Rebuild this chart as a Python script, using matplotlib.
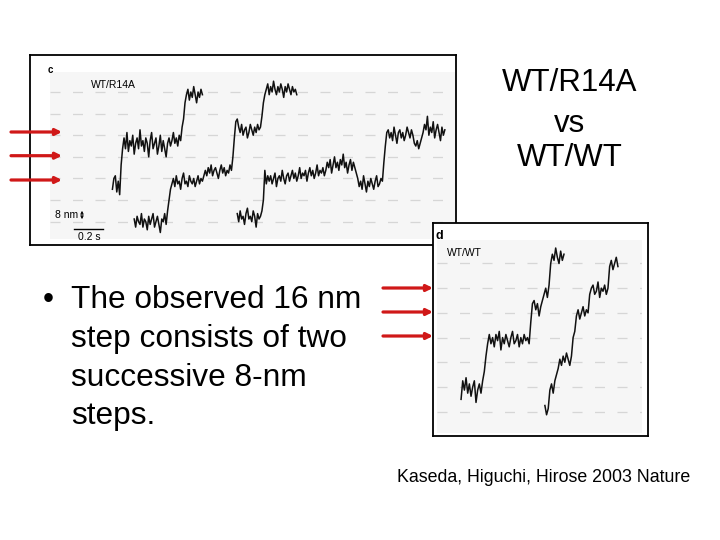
import numpy as np
import matplotlib
matplotlib.use('Agg')
import matplotlib.pyplot as plt
from matplotlib.patches import Rectangle

plt.rcParams['font.family'] = ['Liberation Sans', 'DejaVu Sans']

# ---- data (time in s, displacement in nm) ----
dt = 0.01
c1_t0 = 0.43
c1_nm = [12, 16, 17, 11, 15, 10, 21, 27,
         31, 27, 33, 26, 30, 28, 32, 25, 29, 31, 27, 34, 28, 30, 26, 31, 29, 24, 30, 33,
         27, 29, 31, 25, 28, 32, 26, 30, 27, 24, 29, 31, 28, 30, 33, 29, 31, 28, 32, 30,
         35, 38, 44,
         47, 49, 45, 48, 46, 50, 47, 44, 48, 46, 49, 47]
c2_t0 = 0.58
c2_nm = [1, -2, 2, 0, -1, 3, -2, 1, 0, -3, 2, -1, 1, 3, -2, 0, 2, -1, -4, 1, 0, 3, -1,
         4, 8, 12, 14,
         16, 13, 17, 14, 15, 12, 16, 18, 14, 15, 13, 17, 15, 14, 16, 13, 15, 17, 14, 16, 15, 17,
         19, 17, 20, 18, 21, 17, 19, 20, 18, 16, 19, 21, 18, 20, 17, 19, 18, 21, 19,
         24, 31, 37,
         38, 35, 33, 36, 32, 34, 35, 31, 33, 36, 34, 32, 35, 33, 36, 34, 35,
         39, 44, 47,
         49, 51, 47, 50, 48, 52, 49, 47, 50, 48, 51, 49, 46, 50, 48, 51, 49, 47, 50, 48, 49, 47]
c3_t0 = 1.29
c3_nm = [3, 0, 4, 1, 2, -1, 3, 5, 1, 2, 0, 4, 2, -2, 3, 1, 2, 4,
         8, 19, 14, 17,
         15, 17, 14, 16, 18, 13, 16, 17, 15, 19, 16, 14, 17, 18, 15, 17, 19, 16, 18, 15,
         17, 20, 16, 18, 17, 19, 15, 18, 20, 17, 19, 16, 18, 21, 17, 19, 18, 20, 17,
         19, 22, 20, 23, 18, 21, 24, 20, 22, 19, 23, 21, 25, 20, 22, 18, 21, 23, 19, 22, 20, 18,
         16, 13, 15, 12, 17, 14, 11, 15, 13, 16, 14, 12, 15, 17, 13, 14, 16, 15,
         22, 28, 33,
         34, 31, 33, 30, 35, 32, 29, 33, 34, 31, 33, 30, 32, 35, 33, 31, 34, 32, 29, 28,
         30, 27, 29, 31, 33, 36, 34, 39, 32, 35, 33, 37, 31, 34, 36, 33, 30, 35, 32, 34]

d1_t0 = 0.145
d1_nm = [4, 10, 7, 11, 6, 9, 5, 8, 10, 3, 7, 9, 6, 10,
         13, 18, 22,
         25, 22, 24, 21, 25, 23, 26, 20, 24, 22, 25, 23, 21, 24, 26, 22, 23, 25, 21, 24, 22, 25, 23, 24, 22,
         29, 35,
         36, 33, 35, 31, 34, 36,
         38, 40, 37, 41,
         48, 51, 49, 53, 50, 48, 52, 49, 51]
d2_t0 = 0.65
d2_nm = [2, -1, 1, 7, 9, 6, 10, 12, 14,
         17, 15, 18, 16, 19, 17, 15, 18, 24, 26,
         31, 33, 30, 32, 34, 31, 33, 32,
         38, 40, 41, 38, 39, 42, 37, 40, 39, 41, 38, 40,
         47, 49, 46, 48, 50, 47]

grid_nm = [0, 8, 16, 24, 32, 40, 48]

W, H = 720, 540
fig = plt.figure(figsize=(7.2, 5.4), dpi=100)


def px_axes(x0, y0, x1, y1):
    return fig.add_axes([x0 / W, 1 - y1 / H, (x1 - x0) / W, (y1 - y0) / H])


def trace_panel(box, area, xlim, ylim, traces):
    bx = px_axes(*box)
    bx.set_xticks([]); bx.set_yticks([])
    for s in bx.spines.values():
        s.set_linewidth(1.3)
    ax = px_axes(*area)
    ax.set_xlim(*xlim); ax.set_ylim(*ylim)
    ax.axis('off')
    ax.add_patch(Rectangle((0, 0), 1, 1, transform=ax.transAxes, color='#f6f6f6', zorder=0))
    for g in grid_nm:
        ax.plot(xlim, [g, g], color='#d6d6d6', lw=0.9, dashes=(8, 10), zorder=1)
    for t0, y in traces:
        t = t0 + dt * np.arange(len(y))
        ax.plot(t, y, color='#111111', lw=1.1, zorder=2)
    return bx, ax


# panel c
bc, ac = trace_panel((30, 54.7, 456, 245), (50, 72, 455, 239), (0, 2.79), (-6.4, 55.4),
                     [(c1_t0, c1_nm), (c2_t0, c2_nm), (c3_t0, c3_nm)])
# panel d (drawn on top of c)
bd, ad = trace_panel((432.7, 222.7, 648, 436), (437, 240, 642, 433), (0, 1.235), (-6.9, 55.6),
                     [(d1_t0, d1_nm), (d2_t0, d2_nm)])

# overlay in pixel coordinates for text and arrows
ov = fig.add_axes([0, 0, 1, 1])
ov.set_xlim(0, W); ov.set_ylim(H, 0)
ov.axis('off')
ov.patch.set_alpha(0)

# panel labels and scale bars
ov.text(48, 70, 'c', fontsize=7, fontweight='bold', va='center')
ov.text(91, 85, 'WT/R14A', fontsize=7.5, va='center')
ov.text(55, 215, '8 nm', fontsize=7.5, va='center')
ov.annotate('', xy=(82, 208), xytext=(82, 222),
            arrowprops=dict(arrowstyle='<->', lw=0.8, color='black', mutation_scale=4))
ov.plot([74, 103], [229, 229], color='black', lw=1.0)
ov.text(89, 237, '0.2 s', fontsize=7.5, ha='center', va='center')
ov.text(436, 236, 'd', fontsize=9, fontweight='bold', va='center')
ov.text(447, 253, 'WT/WT', fontsize=7.5, va='center')

red = '#d01818'
for y in [132, 155.7, 180]:
    ov.annotate('', xy=(62, y), xytext=(11, y),
                arrowprops=dict(arrowstyle='-|>', lw=2.3, color=red, mutation_scale=9,
                                shrinkA=0, shrinkB=0))
for y in [288, 312, 336]:
    ov.annotate('', xy=(433, y), xytext=(383, y),
                arrowprops=dict(arrowstyle='-|>', lw=2.3, color=red, mutation_scale=9,
                                shrinkA=0, shrinkB=0))

# slide text
for y, s in [(83, 'WT/R14A'), (124, 'vs'), (158, 'WT/WT')]:
    ov.text(570, y, s, fontsize=22.5, ha='center', va='center')

ov.text(43, 300, '\u2022', fontsize=22.5, va='center')
for y, s in [(300, 'The observed 16 nm'), (339, 'step consists of two'),
             (378, 'successive 8-nm'), (416, 'steps.')]:
    ov.text(71, y, s, fontsize=22.8, va='center')

ov.text(397, 478, 'Kaseda, Higuchi, Hirose 2003 Nature', fontsize=12.8, va='center')

fig.savefig('out.png', dpi=100)
